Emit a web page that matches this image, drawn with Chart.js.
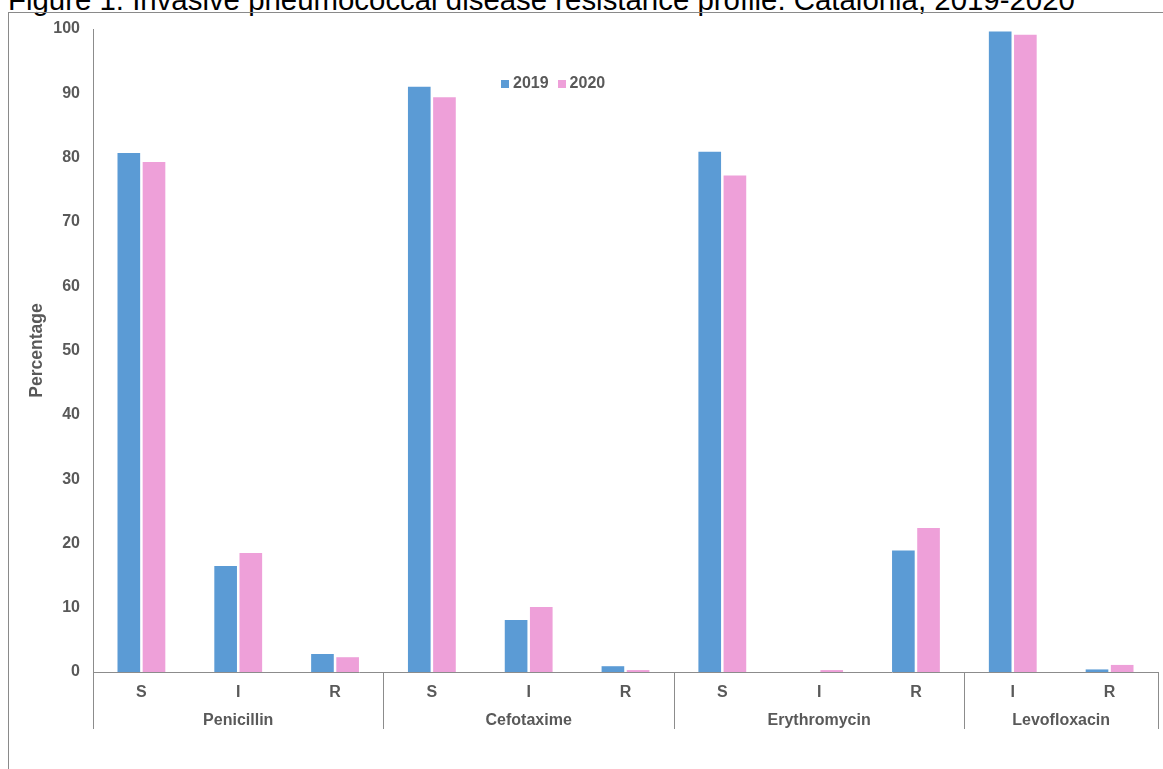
<!DOCTYPE html>
<html>
<head>
<meta charset="utf-8">
<script src="https://cdn.jsdelivr.net/npm/chart.js@4/dist/chart.umd.min.js"></script>
<style>
  html, body { margin: 0; padding: 0; overflow: hidden; background: #fff; }
  body { width: 1163px; height: 769px; position: relative; font-family: "Liberation Sans", Arial, sans-serif; }
  #title { position: absolute; left: 8px; top: -15px; font-size: 29.4px; line-height: 1; color: #000; white-space: nowrap; }
  #frame { position: absolute; left: 8px; top: 12px; width: 1300px; height: 900px; border: 1px solid #8a8a8a; }
  #wrap { position: absolute; left: 0; top: 0; width: 1163px; height: 769px; }
  #legend { position: absolute; left: 501px; top: 74px; font-size: 16px; font-weight: bold; color: #595959; }
  #legend span.item { margin-right: 9px; }
  #legend i { display: inline-block; width: 8px; height: 8px; margin-right: 4px; }
</style>
</head>
<body>
<div id="title">Figure 1. Invasive pneumococcal disease resistance profile. Catalonia, 2019-2020</div>
<div id="frame"></div>
<div id="wrap"><canvas id="resistChart" width="1163" height="769"></canvas></div>
<div id="legend"></div>
<script>
const categories = ['S', 'I', 'R', 'S', 'I', 'R', 'S', 'I', 'R', 'I', 'R'];
const groups = ['Penicillin', 'Cefotaxime', 'Erythromycin', 'Levofloxacin'];
const groupSizes = [3, 3, 3, 2];
const values2019 = [80.7, 16.5, 2.8, 91.0, 8.1, 0.9, 80.9, 0, 18.9, 99.6, 0.4];
const values2020 = [79.3, 18.5, 2.3, 89.4, 10.1, 0.3, 77.2, 0.3, 22.4, 99.1, 1.1];
const yTicks = [0, 10, 20, 30, 40, 50, 60, 70, 80, 90, 100];

const axisGray = '#8c8c8c';
const textGray = '#595959';

// group labels + separators under the category ticks
const groupAxis = {
    id: 'groupAxis',
    afterDraw(chart) {
        const ctx = chart.ctx;
        const x = chart.scales.x;
        const top = chart.chartArea.bottom;
        const half = (x.getPixelForValue(1) - x.getPixelForValue(0)) / 2;
        ctx.save();
        ctx.strokeStyle = axisGray;
        ctx.lineWidth = 1;
        ctx.fillStyle = textGray;
        ctx.font = 'bold 16px "Liberation Sans", Arial, sans-serif';
        ctx.textAlign = 'center';
        ctx.textBaseline = 'middle';
        let start = 0;
        const edges = [x.getPixelForValue(0) - half];
        groups.forEach((g, i) => {
            const end = start + groupSizes[i] - 1;
            const left = x.getPixelForValue(start) - half;
            const right = x.getPixelForValue(end) + half;
            edges.push(right);
            ctx.fillText(g, (left + right) / 2, top + 49);
            start = end + 1;
        });
        edges.forEach(px => {
            const xx = Math.round(px) + 0.5;
            ctx.beginPath();
            ctx.moveTo(xx, top);
            ctx.lineTo(xx, top + 57);
            ctx.stroke();
        });
        ctx.restore();
    }
};

const ctx = document.getElementById('resistChart').getContext('2d');
const chart = new Chart(ctx, {
    type: 'bar',
    data: {
        labels: categories,
        datasets: [{
            label: '2019',
            data: values2019,
            backgroundColor: '#5b9bd5',
            categoryPercentage: 0.52,
            barPercentage: 0.9
        }, {
            label: '2020',
            data: values2020,
            backgroundColor: '#eea0d9',
            categoryPercentage: 0.52,
            barPercentage: 0.9
        }]
    },
    options: {
        responsive: false,
        animation: false,
        layout: { padding: { top: 29, right: 5, left: 0, bottom: 0 } },
        plugins: {
            legend: { display: false },
            tooltip: { enabled: false }
        },
        scales: {
            x: {
                grid: { display: false, drawTicks: false },
                border: { color: axisGray },
                ticks: {
                    color: textGray,
                    font: { family: '"Liberation Sans", Arial, sans-serif', size: 16, weight: 'bold' },
                    padding: 11,
                    maxRotation: 0,
                    autoSkip: false
                },
                afterFit(scale) { scale.height = 97; }
            },
            y: {
                min: 0,
                max: 100,
                grid: { display: false, drawTicks: false },
                border: { color: axisGray },
                afterBuildTicks(scale) { scale.ticks = yTicks.map(v => ({ value: v })); },
                ticks: {
                    color: textGray,
                    font: { family: '"Liberation Sans", Arial, sans-serif', size: 16, weight: 'bold' },
                    padding: 13
                },
                title: {
                    display: true,
                    text: 'Percentage',
                    color: textGray,
                    font: { family: '"Liberation Sans", Arial, sans-serif', size: 17.5, weight: 'bold' },
                    padding: { top: 27, bottom: 0 }
                },
                afterFit(scale) { scale.width = 93; }
            }
        }
    },
    plugins: [groupAxis]
});

// legend built from the datasets
const legend = document.getElementById('legend');
chart.data.datasets.forEach(ds => {
    const item = document.createElement('span');
    item.className = 'item';
    item.innerHTML = '<i style="background:' + ds.backgroundColor + '"></i>' + ds.label;
    legend.appendChild(item);
});
</script>
</body>
</html>
